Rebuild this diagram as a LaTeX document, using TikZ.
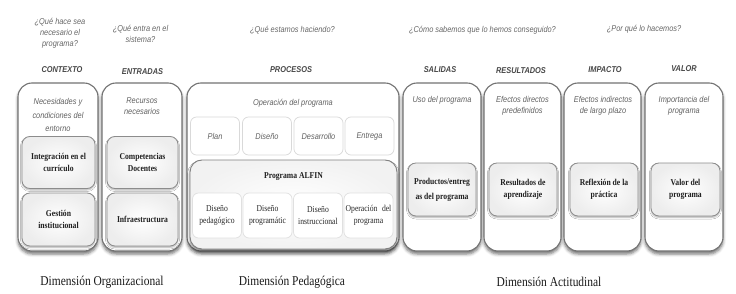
\documentclass[tikz,border=0pt]{standalone}
\usepackage{fontspec}
\setmainfont{Liberation Serif}
\newfontfamily\nsans[FakeStretch=0.87]{Liberation Sans}
\newfontfamily\nserif[FakeStretch=0.85]{Liberation Serif}
\usetikzlibrary{shadows.blur}
\tikzset{
  q/.style={font=\nsans\itshape\fontsize{8.5}{11}\selectfont, text=black!60, align=center},
  hd/.style={font=\nsans\bfseries\itshape\fontsize{8.5}{10}\selectfont, text=black!72},
  ct/.style={font=\nsans\itshape\fontsize{8.5}{11}\selectfont, text=black!62, align=center},
  ib/.style={font=\nserif\bfseries\fontsize{9}{11.5}\selectfont, align=center, text=black!88},
  sbt/.style={font=\nserif\fontsize{9}{12}\selectfont, align=center, text=black!85},
  dim/.style={font=\nserif\fontsize{13.5}{15}\selectfont, text=black!90},
  outer/.style={draw=black!55, line width=1.1pt, rounded corners=14pt, fill=white,
    inner sep=0pt, blur shadow={shadow xshift=0pt, shadow yshift=-3pt, shadow blur radius=3pt, shadow opacity=55}},
  innerbox/.style={draw=black!45, line width=0.8pt, rounded corners=8pt,
    inner color=white, outer color=black!7, inner sep=0pt,
    blur shadow={shadow xshift=0pt, shadow yshift=-1.5pt, shadow blur radius=1.5pt, shadow opacity=30}},
  alfin/.style={draw=black!50, line width=0.9pt, rounded corners=12pt,
    inner color=white, outer color=black!5, inner sep=0pt,
    blur shadow={shadow xshift=0pt, shadow yshift=-2.5pt, shadow blur radius=2.5pt, shadow opacity=50}},
  smallbox/.style={draw=black!15, line width=0.7pt, rounded corners=6pt, fill=white, inner sep=0pt,
    minimum width=49pt},
}
\begin{document}
\begin{tikzpicture}[x=1pt,y=-1pt]
\useasboundingbox (0,0) rectangle (736,294);

% questions
\node[q] (q1) at (60,33) {¿Qué hace sea\\necesario el\\programa?};
\node[q] (q2) at (140.5,33.5) {¿Qué entra en el\\sistema?};
\node[q] (q3) at (292.5,30) {¿Qué estamos haciendo?};
\node[q] (q4) at (482.5,30) {¿Cómo sabemos que lo hemos conseguido?};
\node[q] (q5) at (644,29) {¿Por qué lo hacemos?};

% headers
\node[hd] (h1) at (62,70) {CONTEXTO};
\node[hd] (h2) at (142.5,72) {ENTRADAS};
\node[hd] (h3) at (291,70) {PROCESOS};
\node[hd] (h4) at (440,70) {SALIDAS};
\node[hd] (h5) at (521,71) {RESULTADOS};
\node[hd] (h6) at (605,70) {IMPACTO};
\node[hd] (h7) at (684,69) {VALOR};

% outer boxes
\node[outer, minimum width=80pt, minimum height=168pt] (ctx) at (58,167) {};
\node[outer, minimum width=80pt, minimum height=168pt] (ent) at (142,167) {};
\node[outer, minimum width=212pt, minimum height=168pt] (pro) at (293,167) {};
\node[outer, minimum width=78pt, minimum height=168pt] (sal) at (442,167) {};
\node[outer, minimum width=77pt, minimum height=168pt] (res) at (522.5,167) {};
\node[outer, minimum width=77pt, minimum height=168pt] (imp) at (602.5,167) {};
\node[outer, minimum width=78pt, minimum height=168pt] (val) at (684,167) {};

% column texts
\node[ct, font=\nsans\itshape\fontsize{8.5}{13.5}\selectfont] (t1) at (58,115) {Necesidades y\\condiciones del\\entorno};
\node[ct] (t2) at (142,106.5) {Recursos\\necesarios};
\node[ct] (t3) at (293,103) {Operación del programa};
\node[ct] (t4) at (442,100) {Uso del programa};
\node[ct] (t5) at (522.5,105.5) {Efectos directos\\predefinidos};
\node[ct] (t6) at (603,105.5) {Efectos indirectos\\de largo plazo};
\node[ct] (t7) at (684,105.5) {Importancia del\\programa};

% inner boxes
\node[innerbox, minimum width=73pt, minimum height=52pt, ib] (integ) at (58.5,162.5) {Integración en el\\currículo};
\node[innerbox, minimum width=73pt, minimum height=53pt, ib] (gest) at (58.5,219.5) {Gestión\\institucional};
\node[innerbox, minimum width=71pt, minimum height=52pt, ib] (comp) at (142.5,162.5) {Competencias\\Docentes};
\node[innerbox, minimum width=71pt, minimum height=53pt, ib] (infra) at (142.5,219.5) {Infraestructura};
\node[innerbox, minimum width=68pt, minimum height=53pt, ib, font=\nserif\bfseries\fontsize{9}{15}\selectfont] (prod) at (442,189.5) {Productos/entreg\\as del programa};
\node[innerbox, minimum width=68pt, minimum height=53pt, ib] (resu) at (523,189.5) {Resultados de\\aprendizaje};
\node[innerbox, minimum width=68pt, minimum height=53pt, ib] (refl) at (604,189.5) {Reflexión de la\\práctica};
\node[innerbox, minimum width=69pt, minimum height=53pt, ib] (valp) at (685.5,189.5) {Valor del\\programa};

% procesos small boxes
\node[smallbox, minimum height=38pt, ct] (plan) at (215,136) {Plan};
\node[smallbox, minimum height=38pt, ct] (dis) at (267,136) {Diseño};
\node[smallbox, minimum height=38pt, ct] (des) at (318.5,136) {Desarrollo};
\node[smallbox, minimum height=38pt, ct] (entr) at (369.5,136) {Entrega};

% ALFIN
\node[alfin, minimum width=207pt, minimum height=89pt] (alf) at (293.5,204.5) {};
\node[ib] (alft) at (293.5,177) {Programa ALFIN};
\node[smallbox, minimum height=45pt, sbt, draw=black!12] (d1) at (217,215.5) {Diseño\\pedagógico};
\node[smallbox, minimum height=45pt, sbt, draw=black!12] (d2) at (267.5,215.5) {Diseño\\programátic};
\node[smallbox, minimum height=45pt, sbt, draw=black!12] (d3) at (318,215.5) {Diseño\\instruccional};
\node[smallbox, minimum height=45pt, sbt, draw=black!12] (d4) at (368.5,215.5) {Operación\enspace del\\programa};

% dimensions
\node[dim] (dim1) at (102,282) {Dimensión Organizacional};
\node[dim] (dim2) at (292,282) {Dimensión Pedagógica};
\node[dim] (dim3) at (549,282) {Dimensión Actitudinal};
\end{tikzpicture}
\end{document}
